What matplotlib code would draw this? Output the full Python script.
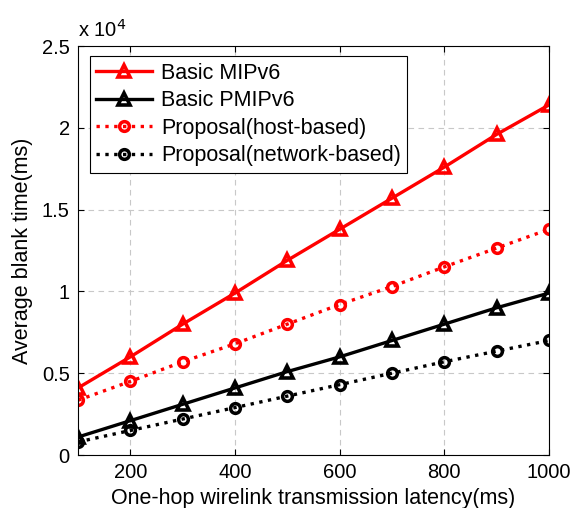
import matplotlib
matplotlib.use("Agg")
import matplotlib.pyplot as plt
import numpy as np

latency = [100, 200, 300, 400, 500, 600, 700, 800, 900, 1000]
mipv6 = [0.41, 0.60, 0.80, 0.99, 1.19, 1.38, 1.57, 1.76, 1.96, 2.14]
pmipv6 = [0.11, 0.21, 0.31, 0.41, 0.51, 0.60, 0.70, 0.80, 0.90, 0.99]
prop_host = [0.335, 0.45, 0.57, 0.68, 0.80, 0.92, 1.03, 1.15, 1.265, 1.38]
prop_net = [0.08, 0.15, 0.22, 0.29, 0.36, 0.43, 0.50, 0.57, 0.635, 0.70]
scale = 1e4

x_ticks = [200, 400, 600, 800, 1000]
y_ticks = [0, 0.5, 1, 1.5, 2, 2.5]
y_ticklabels = ["0", "0.5", "1", "1.5", "2", "2.5"]

plt.rcParams['font.family'] = ['Liberation Sans', 'DejaVu Sans']

fig = plt.figure(figsize=(5.75, 5.08), dpi=100)
ax = fig.add_axes([0.1357, 0.1043, 0.8191, 0.8051])

x = np.array(latency)
ax.plot(x, np.array(mipv6) * scale, color='red', lw=2.4, marker='^', ms=8.5,
        mfc='none', mec='red', mew=2.6, label='Basic MIPv6')
ax.plot(x, np.array(pmipv6) * scale, color='black', lw=2.4, marker='^', ms=8.5,
        mfc='none', mec='black', mew=2.6, label='Basic PMIPv6')
ax.plot(x, np.array(prop_host) * scale, color='red', lw=2.4, ls=':', marker='o', ms=7,
        mfc='none', mec='red', mew=2.5, label='Proposal(host-based)')
ax.plot(x, np.array(prop_net) * scale, color='black', lw=2.4, ls=':', marker='o', ms=7,
        mfc='none', mec='black', mew=2.5, label='Proposal(network-based)')

ax.set_xlim(100, 1000)
ax.set_ylim(0, 2.5 * scale)
ax.set_xticks(x_ticks)
ax.set_yticks([v * scale for v in y_ticks])
ax.set_yticklabels(y_ticklabels)
ax.tick_params(direction='in', top=True, right=True, length=4, width=0.8,
               labelsize=14.5, pad=6)
ax.grid(True, ls=(0, (5, 4)), color='#c8c8c8', lw=0.8)
for s in ax.spines.values():
    s.set_linewidth(0.8)

ax.set_xlabel('One-hop wirelink transmission latency(ms)', fontsize=15.5, labelpad=4)
ax.set_ylabel('Average blank time(ms)', fontsize=15.5, labelpad=6)
ax.text(0.0, 1.012, r'x 10$^4$', transform=ax.transAxes, fontsize=14.5, ha='left', va='bottom')

leg = ax.legend(loc='upper left', bbox_to_anchor=(0.025, 0.975), fontsize=15.5,
                frameon=True, fancybox=False, edgecolor='black', framealpha=1,
                handlelength=2.6, labelspacing=0.3, borderpad=0.3, handletextpad=0.4,
                borderaxespad=0)
leg.get_frame().set_linewidth(0.8)

fig.savefig('out.png', dpi=100)
